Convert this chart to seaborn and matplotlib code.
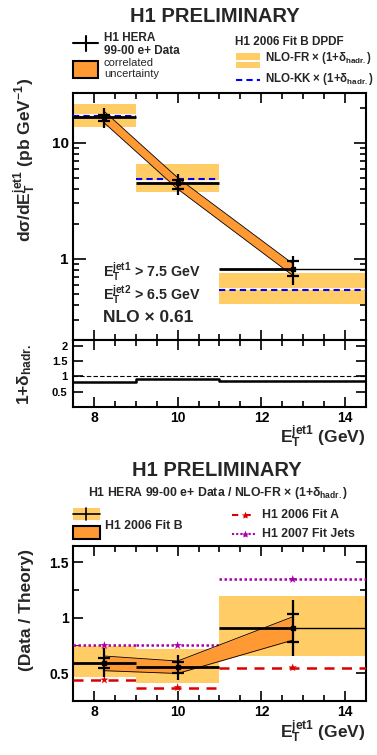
import matplotlib
matplotlib.use('Agg')
import matplotlib.pyplot as plt
import seaborn as sns
from matplotlib.ticker import FixedLocator, MultipleLocator, LogLocator, NullFormatter
from matplotlib.patches import Rectangle

# bins in E_T^jet1 (GeV)
edges = [7.5, 9.0, 11.0, 14.5]
centres = [8.25, 10.0, 12.75]

# cross section (pb/GeV)
xsec = [16.6, 4.47, 0.81]
xsec_tot_up = [20.0, 5.33, 1.05]
xsec_tot_dn = [13.3, 3.58, 0.59]
xsec_stat_up = [17.3, 4.77, 0.95]
xsec_stat_dn = [15.4, 3.96, 0.71]
corr_up = [18.6, 5.0, 0.91]
corr_dn = [14.8, 4.0, 0.72]
fr_central = [17.3, 4.65, 0.545]
fr_up = [21.4, 6.6, 0.75]
fr_dn = [13.6, 3.75, 0.41]
kk = [17.1, 4.83, 0.535]
hadr = [0.825, 0.91, 0.86]

# data / theory
ratio = [0.597, 0.556, 0.905]
ratio_tot_up = [0.726, 0.666, 1.165]
ratio_tot_dn = [0.471, 0.44, 0.657]
ratio_stat_up = [0.636, 0.606, 1.033]
ratio_stat_dn = [0.552, 0.502, 0.78]
ratio_corr_up = [0.657, 0.612, 1.01]
ratio_corr_dn = [0.525, 0.50, 0.80]
ratio_fr_up = [0.745, 0.72, 1.20]
ratio_fr_dn = [0.47, 0.412, 0.66]
fit_a = [0.442, 0.373, 0.552]
fit_jets = [0.752, 0.752, 1.347]

LIGHT = '#ffcc66'
DARK = '#ff9933'

sns.set_theme(style='ticks')
plt.rcParams['font.family'] = ['Liberation Sans', 'DejaVu Sans']
plt.rcParams['font.weight'] = 'bold'
plt.rcParams['mathtext.fontset'] = 'custom'
plt.rcParams['mathtext.rm'] = 'Liberation Sans:bold'
plt.rcParams['mathtext.it'] = 'Liberation Sans:bold'
plt.rcParams['mathtext.bf'] = 'Liberation Sans:bold'
plt.rcParams['mathtext.sf'] = 'Liberation Sans:bold'

W, H = 377, 755
fig = plt.figure(figsize=(W / 100, H / 100), dpi=100)


def box(top, bottom):
    return [73 / W, 1 - bottom / H, (366 - 73) / W, (bottom - top) / H]


def style(ax):
    for s in ax.spines.values():
        s.set_linewidth(1.5)
        s.set_color('black')
    ax.tick_params(which='both', direction='in', top=True, right=True,
                   width=1.2, colors='black', labelsize=10)
    ax.tick_params(which='major', length=7, pad=3)
    ax.tick_params(which='minor', length=4)
    ax.set_xlim(7.5, 14.5)
    ax.xaxis.set_major_locator(FixedLocator([8, 10, 12, 14]))
    ax.xaxis.set_minor_locator(MultipleLocator(0.5))
    ax.set_facecolor('white')


def errbars(ax, y, tot_up, tot_dn, st_up, st_dn):
    ax.errorbar(centres, y, yerr=[[a - b for a, b in zip(y, tot_dn)], [b - a for a, b in zip(y, tot_up)]],
                fmt='none', ecolor='black', elinewidth=1.6, zorder=6)
    ax.errorbar(centres, y, yerr=[[a - b for a, b in zip(y, st_dn)], [b - a for a, b in zip(y, st_up)]],
                fmt='none', ecolor='black', elinewidth=0, capsize=4, capthick=1.6, zorder=6)
    ax.plot(centres, y, 's', color='black', ms=3, zorder=7)


def data_lines(ax, y):
    for i, v in enumerate(y):
        if i < 2:
            ax.hlines(v, edges[i], edges[i + 1], color='black', lw=2, zorder=5)
        else:
            ax.hlines(v, edges[i], centres[i], color='black', lw=2, zorder=5)
            ax.hlines(v, centres[i], edges[i + 1], color='black', lw=1, zorder=5)


# ---------------- top: cross section ----------------
ax1 = fig.add_axes(box(92.7, 340))
style(ax1)
ax1.set_yscale('log')
ax1.set_ylim(0.2, 27)
for i in range(3):
    ax1.bar(edges[i], fr_up[i] - fr_dn[i], bottom=fr_dn[i], width=edges[i + 1] - edges[i],
            align='edge', color=LIGHT, lw=0, zorder=1)
    ax1.hlines(fr_central[i], edges[i], edges[i + 1], color='white', lw=1.2, zorder=2)
    ax1.hlines(kk[i], edges[i], edges[i + 1], color='#0000ff', lw=1.5, ls=(0, (3, 2)), zorder=3)
ax1.fill_between(centres, corr_dn, corr_up, color=DARK, lw=0, zorder=4)
sns.lineplot(x=centres, y=corr_up, ax=ax1, color='black', lw=0.6, zorder=4)
sns.lineplot(x=centres, y=corr_dn, ax=ax1, color='black', lw=0.6, zorder=4)
data_lines(ax1, xsec)
errbars(ax1, xsec, xsec_tot_up, xsec_tot_dn, xsec_stat_up, xsec_stat_dn)
ax1.yaxis.set_major_locator(FixedLocator([1, 10]))
ax1.set_yticklabels(['1', '10'])
ax1.yaxis.set_minor_locator(LogLocator(subs=[2, 3, 4, 5, 6, 7, 8, 9]))
ax1.yaxis.set_minor_formatter(NullFormatter())
ax1.tick_params(axis='y', which='major', length=9, labelsize=11)
ax1.tick_params(labelbottom=False)
ax1.set_xlabel('')
ax1.set_ylabel('')

# ---------------- top: hadronisation correction ----------------
ax2 = fig.add_axes(box(340, 406.7))
style(ax2)
ax2.set_ylim(0.0, 2.2)
ax2.hlines(1.0, 7.5, 14.5, color='black', lw=0.8, ls=(0, (4, 2)))
ax2.step(edges, hadr + [hadr[-1]], where='post', color='black', lw=1.8)
ax2.yaxis.set_major_locator(FixedLocator([0.5, 1, 1.5, 2]))
ax2.set_yticklabels(['0.5', '1', '1.5', '2'])
ax2.tick_params(axis='y', labelsize=8, pad=4)
ax2.set_xticklabels(['8', '10', '12', '14'])

# ---------------- bottom: ratio ----------------
ax3 = fig.add_axes(box(545.7, 700.7))
style(ax3)
ax3.set_ylim(0.255, 1.65)
for i in range(3):
    ax3.bar(edges[i], ratio_fr_up[i] - ratio_fr_dn[i], bottom=ratio_fr_dn[i], width=edges[i + 1] - edges[i],
            align='edge', color=LIGHT, lw=0, zorder=1)
    ax3.hlines(fit_a[i], edges[i], edges[i + 1], color='#dd0000', lw=1.8, ls=(0, (4, 3)), zorder=3)
    ax3.hlines(fit_jets[i], edges[i], edges[i + 1], color='#aa00aa', lw=1.8, ls=(0, (1, 1)), zorder=3)
sns.scatterplot(x=centres, y=fit_a, ax=ax3, marker='*', color='#dd0000', s=40, edgecolor='none', zorder=4)
sns.scatterplot(x=centres, y=fit_jets, ax=ax3, marker='*', color='#aa00aa', s=40, edgecolor='none', zorder=4)
ax3.fill_between(centres, ratio_corr_dn, ratio_corr_up, color=DARK, lw=0, zorder=4)
sns.lineplot(x=centres, y=ratio_corr_up, ax=ax3, color='black', lw=0.6, zorder=4)
sns.lineplot(x=centres, y=ratio_corr_dn, ax=ax3, color='black', lw=0.6, zorder=4)
data_lines(ax3, ratio)
errbars(ax3, ratio, ratio_tot_up, ratio_tot_dn, ratio_stat_up, ratio_stat_dn)
ax3.yaxis.set_major_locator(FixedLocator([0.5, 1, 1.5]))
ax3.set_yticklabels(['0.5', '1', '1.5'])
ax3.yaxis.set_minor_locator(MultipleLocator(0.25))
ax3.set_xticklabels(['8', '10', '12', '14'])
ax3.set_xlabel('')
ax3.set_ylabel('')

# ---------------- overlay for titles and legends (pixel coords) ----------------
ov = fig.add_axes([0, 0, 1, 1], zorder=10)
ov.set_xlim(0, W)
ov.set_ylim(H, 0)
ov.axis('off')
ov.patch.set_alpha(0)

ov.text(215, 16, 'H1 PRELIMINARY', ha='center', va='center', fontsize=14.5)
ov.text(217, 470, 'H1 PRELIMINARY', ha='center', va='center', fontsize=14.5)

# top left legend
ov.plot([73, 98], [43, 43], color='black', lw=1.5)
ov.plot([86, 86], [36, 51], color='black', lw=1.5)
ov.add_patch(Rectangle((73, 61), 25, 17, facecolor=DARK, edgecolor='black', lw=1.5))
ov.text(104, 38, 'H1 HERA', ha='left', va='center', fontsize=8.5)
ov.text(104, 51, '99-00 e+ Data', ha='left', va='center', fontsize=8.5)
ov.text(104, 63, 'correlated', ha='left', va='center', fontsize=8, fontweight='normal')
ov.text(104, 74, 'uncertainty', ha='left', va='center', fontsize=8, fontweight='normal')

# top right legend
ov.text(235, 42, 'H1 2006 Fit B DPDF', ha='left', va='center', fontsize=8.5)
ov.add_patch(Rectangle((236, 53), 24, 6.5, facecolor=LIGHT, lw=0))
ov.add_patch(Rectangle((236, 61.5), 24, 6.5, facecolor=LIGHT, lw=0))
ov.plot([236, 260], [80, 80], color='#0000ff', lw=1.5, ls=(0, (3, 2)))
ov.text(265, 58, r'NLO-FR × (1+$\delta_{hadr.}$)', ha='left', va='center', fontsize=8.3)
ov.text(265, 79, r'NLO-KK × (1+$\delta_{hadr.}$)', ha='left', va='center', fontsize=8.3)

# cuts
ov.text(103, 272, r'E$_{T}^{jet1}$ > 7.5 GeV', ha='left', va='center', fontsize=10.3)
ov.text(103, 295, r'E$_{T}^{jet2}$ > 6.5 GeV', ha='left', va='center', fontsize=10.3)
ov.text(103, 317, 'NLO × 0.61', ha='left', va='center', fontsize=12.5)

# axis titles
ov.text(25, 160, r'd$\sigma$/dE$_{T}^{jet1}$ (pb GeV$^{-1}$)', rotation=90, ha='center', va='center', fontsize=12.5)
ov.text(25, 374, r'1+$\delta_{hadr.}$', rotation=90, ha='center', va='center', fontsize=12.5)
ov.text(27, 610, '(Data / Theory)', rotation=90, ha='center', va='center', fontsize=12.5)
ov.text(366, 437, r'E$_{T}^{jet1}$ (GeV)', ha='right', va='center', fontsize=12.5)
ov.text(366, 732, r'E$_{T}^{jet1}$ (GeV)', ha='right', va='center', fontsize=12.5)

# bottom legend
ov.text(218, 493, r'H1 HERA 99-00 e+ Data / NLO-FR × (1+$\delta_{hadr.}$)', ha='center', va='center', fontsize=8.8)
ov.add_patch(Rectangle((73, 508), 27, 12, facecolor=LIGHT, lw=0))
ov.plot([73, 100], [514, 514], color='black', lw=1.2)
ov.plot([86, 86], [508, 520], color='black', lw=1.2)
ov.add_patch(Rectangle((73, 526), 27, 13, facecolor=DARK, edgecolor='black', lw=1.5))
ov.text(105, 526, 'H1 2006 Fit B', ha='left', va='center', fontsize=8.8)
ov.plot([232, 257], [515, 515], color='#dd0000', lw=1.5, ls=(0, (3, 3)))
ov.plot([244.5], [515], '*', color='#dd0000', ms=6, mec='none')
ov.plot([232, 257], [534, 534], color='#aa00aa', lw=1.5, ls=(0, (1, 1)))
ov.plot([244.5], [534], '*', color='#aa00aa', ms=6, mec='none')
ov.text(262, 515, 'H1 2006 Fit A', ha='left', va='center', fontsize=8.8)
ov.text(262, 534, 'H1 2007 Fit Jets', ha='left', va='center', fontsize=8.8)

fig.savefig('out.png', dpi=100, facecolor='white')
